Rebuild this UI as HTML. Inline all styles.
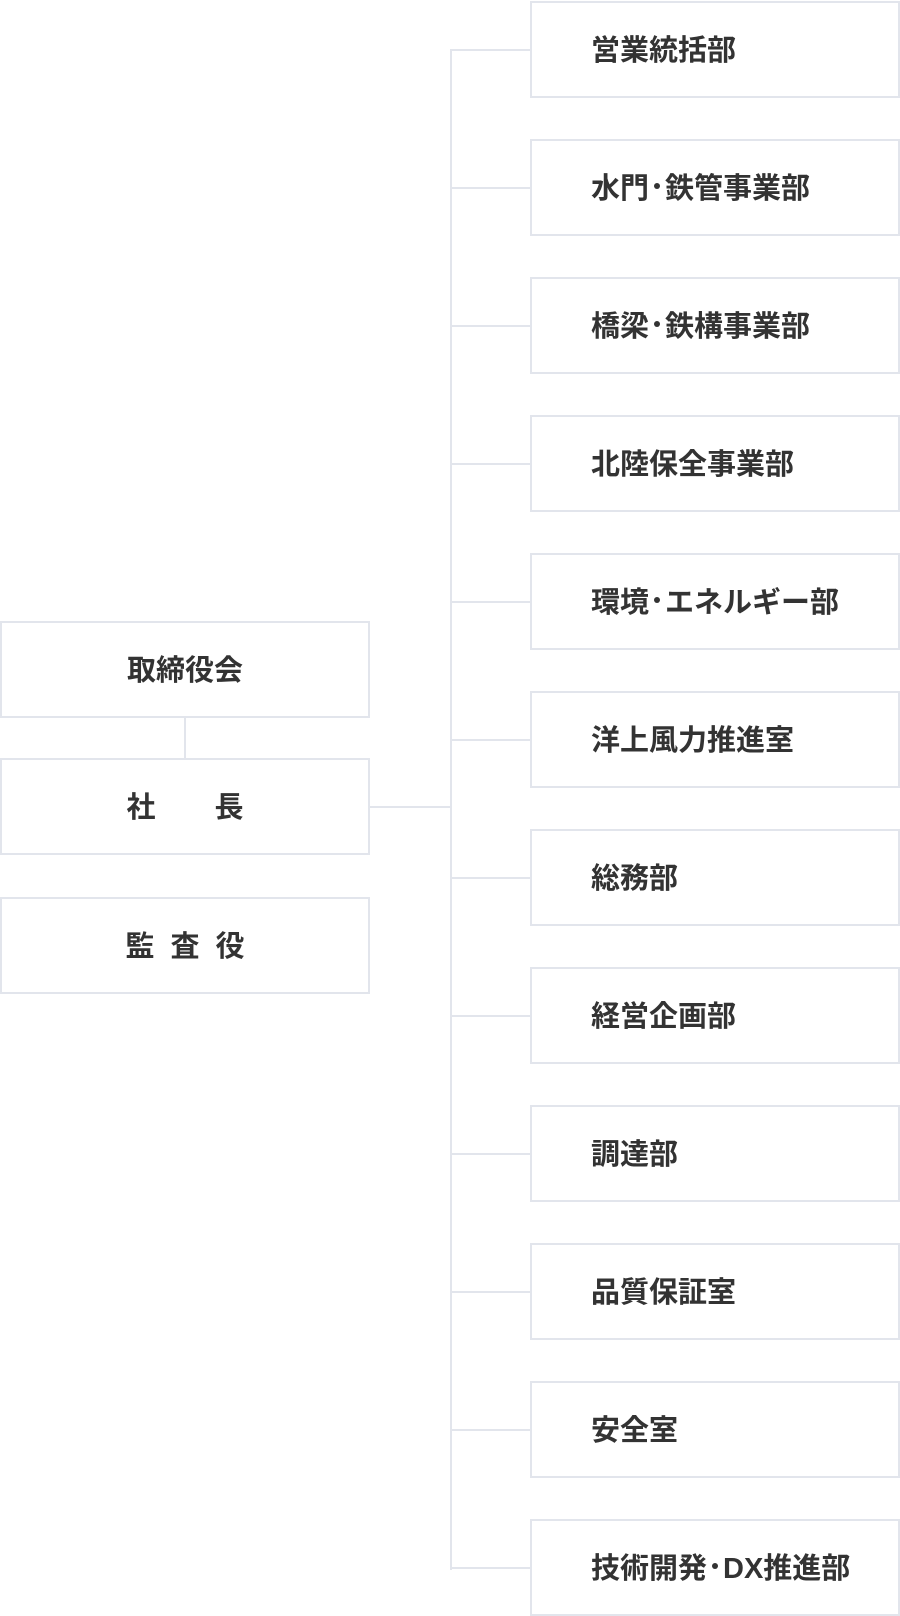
<!DOCTYPE html>
<html><head><meta charset="utf-8"><style>
body{margin:0;width:900px;height:1616px;background:#fff;position:relative;overflow:hidden;font-family:"Liberation Sans","Noto Sans CJK JP",sans-serif;color:#333;}
.b{position:absolute;box-sizing:border-box;border:2px solid #e2e5ec;background:#fff;height:97px;display:flex;align-items:center;font-size:29px;font-weight:700;padding-bottom:4px;}
.r{left:530px;width:370px;padding-left:59px;}
.l{left:0;width:370px;justify-content:center;}
.ln{position:absolute;background:#e2e5ec;}
.d{display:inline-block;width:16px;height:29px;position:relative;}
.d i{position:absolute;left:5px;top:12px;width:6px;height:6px;border-radius:50%;background:#333;}
.d b{position:absolute;opacity:0;font-size:1px;}
</style></head><body>
<div class="ln" style="left:450px;top:49px;width:2px;height:1521px"></div>
<div class="ln" style="left:369px;top:806px;width:82px;height:2px"></div>
<div class="ln" style="left:184px;top:716px;width:2px;height:42px"></div>

<div class="ln" style="left:451px;top:49px;width:80px;height:2px"></div>
<div class="ln" style="left:451px;top:187px;width:80px;height:2px"></div>
<div class="ln" style="left:451px;top:325px;width:80px;height:2px"></div>
<div class="ln" style="left:451px;top:463px;width:80px;height:2px"></div>
<div class="ln" style="left:451px;top:601px;width:80px;height:2px"></div>
<div class="ln" style="left:451px;top:739px;width:80px;height:2px"></div>
<div class="ln" style="left:451px;top:877px;width:80px;height:2px"></div>
<div class="ln" style="left:451px;top:1015px;width:80px;height:2px"></div>
<div class="ln" style="left:451px;top:1153px;width:80px;height:2px"></div>
<div class="ln" style="left:451px;top:1291px;width:80px;height:2px"></div>
<div class="ln" style="left:451px;top:1429px;width:80px;height:2px"></div>
<div class="ln" style="left:451px;top:1567px;width:80px;height:2px"></div>

<div class="b l" style="top:621px">取締役会</div>
<div class="b l" style="top:758px"><span>社</span><span style="display:inline-block;width:59px"></span><span>長</span></div>
<div class="b l" style="top:897px;letter-spacing:16px;padding-left:16px">監査役</div>

<div class="b r" style="top:1px">営業統括部</div>
<div class="b r" style="top:139px">水門<span class="d"><i></i><b>・</b></span>鉄管事業部</div>
<div class="b r" style="top:277px">橋梁<span class="d"><i></i><b>・</b></span>鉄構事業部</div>
<div class="b r" style="top:415px">北陸保全事業部</div>
<div class="b r" style="top:553px">環境<span class="d"><i></i><b>・</b></span>エネルギー部</div>
<div class="b r" style="top:691px">洋上風力推進室</div>
<div class="b r" style="top:829px">総務部</div>
<div class="b r" style="top:967px">経営企画部</div>
<div class="b r" style="top:1105px">調達部</div>
<div class="b r" style="top:1243px">品質保証室</div>
<div class="b r" style="top:1381px">安全室</div>
<div class="b r" style="top:1519px">技術開発<span class="d"><i></i><b>・</b></span>DX推進部</div>
</body></html>
